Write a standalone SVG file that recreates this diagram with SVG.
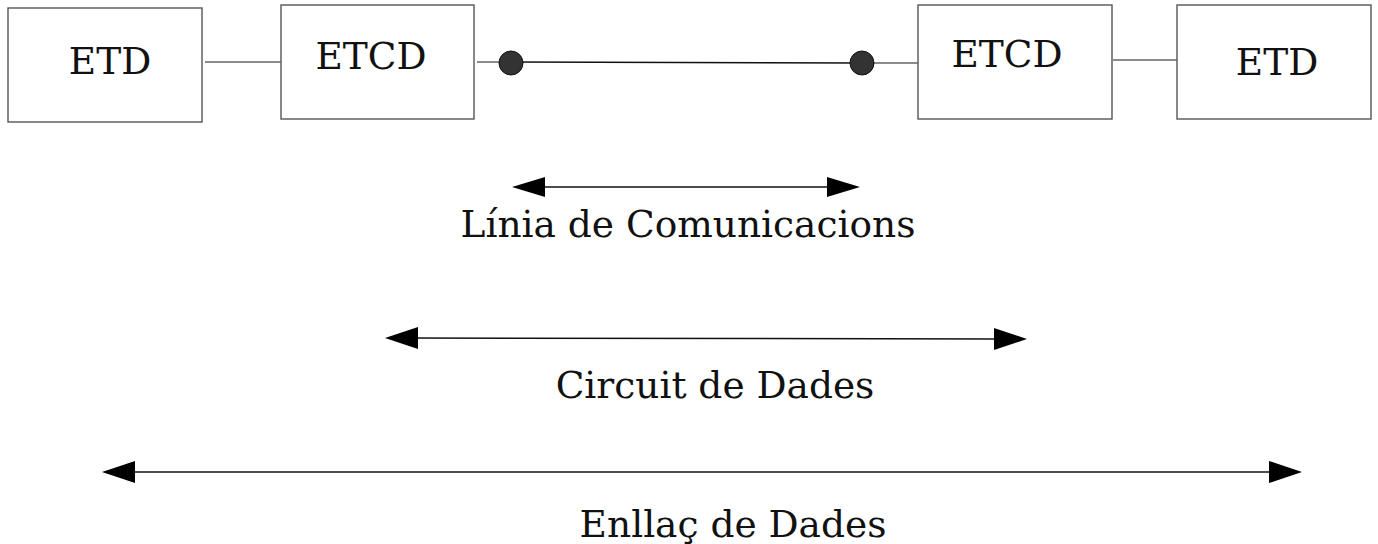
<svg xmlns="http://www.w3.org/2000/svg" width="1378" height="544" viewBox="0 0 1378 544">
<style>
.box{fill:#fff;stroke:#555;stroke-width:1.4}
.ln{stroke:#666;stroke-width:1.4;fill:none}
.ar{stroke:#111;stroke-width:1.5;fill:none}
.hd{fill:#000}
.dot{fill:#333;stroke:#111;stroke-width:1}
text{font-family:"DejaVu Serif",serif;font-size:37.5px;fill:#111;text-anchor:middle}
</style>
<rect width="1378" height="544" fill="#fff"/>
<g id="etd1"><rect class="box" x="8" y="8" width="194" height="114"/><text x="110" y="74">ETD</text></g>
<g id="etcd1"><rect class="box" x="281" y="5" width="193" height="114"/><text x="371" y="69">ETCD</text></g>
<g id="etcd2"><rect class="box" x="918" y="5" width="194" height="114"/><text x="1007" y="67">ETCD</text></g>
<g id="etd2"><rect class="box" x="1177" y="5" width="194" height="114"/><text x="1277" y="75">ETD</text></g>
<g id="connectors">
<line class="ln" x1="205" y1="62" x2="281" y2="62"/>
<line class="ln" x1="477" y1="62" x2="511" y2="62"/>
<line class="ar" x1="511" y1="62" x2="862" y2="63"/>
<line class="ln" x1="862" y1="63" x2="918" y2="63"/>
<line class="ln" x1="1113" y1="60" x2="1177" y2="60"/>
<circle class="dot" cx="511" cy="63" r="12"/>
<circle class="dot" cx="862" cy="63" r="12"/>
</g>
<g id="linia">
<line class="ar" x1="540" y1="187" x2="832" y2="187"/>
<polygon class="hd" points="512,187 545,177 545,197"/>
<polygon class="hd" points="860,187 827,177 827,197"/>
<text x="688" y="237">Línia de Comunicacions</text>
</g>
<g id="circuit">
<line class="ar" x1="410" y1="338" x2="1000" y2="339"/>
<polygon class="hd" points="385,338 418,327 418,349"/>
<polygon class="hd" points="1027,339 994,328 994,350"/>
<text x="715" y="398">Circuit de Dades</text>
</g>
<g id="enllac">
<line class="ar" x1="125" y1="472" x2="1280" y2="472"/>
<polygon class="hd" points="102,472 135,461 135,483"/>
<polygon class="hd" points="1302,472 1269,461 1269,483"/>
<text x="733" y="537">Enllaç de Dades</text>
</g>
</svg>
